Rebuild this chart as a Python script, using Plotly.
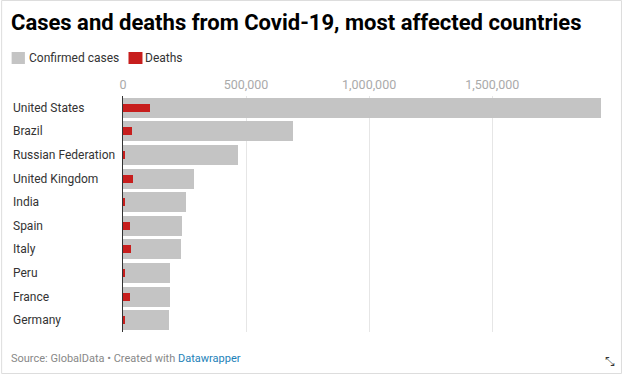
import plotly.graph_objects as go

countries = ["United States", "Brazil", "Russian Federation", "United Kingdom", "India",
             "Spain", "Italy", "Peru", "France", "Germany"]
cases = [1942000, 691000, 469000, 287000, 257000, 240000, 235000, 192000, 190000, 185000]
deaths = [111000, 36500, 4500, 40500, 7200, 27100, 33800, 4300, 29200, 8700]
tick_vals = [0, 500000, 1000000, 1500000]
tick_text = ["0", "500,000", "1,000,000", "1,500,000"]

W, H = 622, 376
L, R, T, B = 122.5, 601, 96, 332
FONT = "Roboto"


def px(x):
    return (x - L) / (R - L)


def py(y):
    return (B - y) / (B - T)


fig = go.Figure()
fig.add_trace(go.Bar(y=countries, x=cases, orientation="h", name="Confirmed cases",
                     marker=dict(color="#c4c4c4", line=dict(width=0)), width=0.85,
                     hoverinfo="x+y"))
fig.add_trace(go.Bar(y=countries, x=deaths, orientation="h", name="Deaths",
                     marker=dict(color="#c71e1d", line=dict(width=0)), width=0.34,
                     hoverinfo="x+y"))

annotations = []
for c in countries:
    annotations.append(dict(x=px(10), xref="paper", y=c, yref="y", text=c,
                            showarrow=False, xanchor="left", yanchor="middle",
                            font=dict(family=FONT, size=12, color="#333333")))
annotations.append(dict(x=px(8), xref="paper", y=py(23), yref="paper",
                        text="<b>Cases and deaths from Covid-19, most affected countries</b>",
                        showarrow=False, xanchor="left", yanchor="middle",
                        font=dict(family=FONT, size=22, color="#000000")))
annotations.append(dict(x=px(26), xref="paper", y=py(58), yref="paper", text="Confirmed cases",
                        showarrow=False, xanchor="left", yanchor="middle",
                        font=dict(family=FONT, size=12, color="#333333")))
annotations.append(dict(x=px(143), xref="paper", y=py(58), yref="paper", text="Deaths",
                        showarrow=False, xanchor="left", yanchor="middle",
                        font=dict(family=FONT, size=12, color="#333333")))
annotations.append(dict(x=px(8.5), xref="paper", y=py(358), yref="paper",
                        text="Source: GlobalData • Created with <span style='color:#1d81b8'>Datawrapper</span>",
                        showarrow=False, xanchor="left", yanchor="middle",
                        font=dict(family=FONT, size=11, color="#888888")))
annotations.append(dict(x=px(610), xref="paper", y=py(361.5), yref="paper", text="⤡",
                        showarrow=False, xanchor="center", yanchor="middle",
                        font=dict(family="DejaVu Sans", size=12, color="#333333")))

shapes = [
    dict(type="rect", xref="paper", yref="paper", x0=px(11), x1=px(24.3), y0=py(52), y1=py(64),
         fillcolor="#c4c4c4", line=dict(width=0)),
    dict(type="rect", xref="paper", yref="paper", x0=px(128), x1=px(142), y0=py(52), y1=py(64),
         fillcolor="#c71e1d", line=dict(width=0)),
    dict(type="rect", xref="paper", yref="paper", x0=px(1), x1=px(W - 0.5), y0=py(0.5), y1=py(373.5),
         fillcolor="rgba(0,0,0,0)", line=dict(color="#dddddd", width=1), layer="below"),
]

fig.update_layout(
    width=W, height=H,
    margin=dict(l=L, r=W - R, t=T, b=H - B, pad=0),
    barmode="overlay",
    bargap=0,
    showlegend=False,
    plot_bgcolor="white", paper_bgcolor="white",
    font=dict(family=FONT),
    annotations=annotations,
    shapes=shapes,
    xaxis=dict(range=[0, 1942000], side="top", tickvals=tick_vals, ticktext=tick_text,
               showgrid=True, gridcolor="#e6e6e6", gridwidth=1, zeroline=False,
               ticks="", ticklabelstandoff=4,
               tickfont=dict(family=FONT, size=12.5, color="#aaaaaa"), fixedrange=True),
    yaxis=dict(autorange="reversed", showticklabels=False, showgrid=False, zeroline=False,
               showline=True, linecolor="#333333", linewidth=1, layer="above traces",
               ticks="", fixedrange=True),
)

fig.write_html("out.html", config={"displayModeBar": False},
               post_script="document.body.style.margin='0';")
